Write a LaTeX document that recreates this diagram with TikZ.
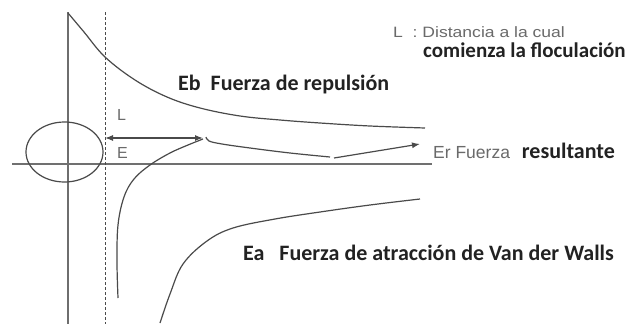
\documentclass[tikz,border=0pt]{standalone}
\usepackage{fontspec}
\setmainfont{Liberation Sans}
\newfontfamily\boldcal{Carlito}[BoldFont={Carlito Bold}]
\usetikzlibrary{arrows.meta,shapes.geometric}
\definecolor{linegray}{HTML}{4A4A4A}
\definecolor{axisgray}{HTML}{707070}
\definecolor{txtgray}{HTML}{6A6A6A}
\definecolor{txtdark}{HTML}{222222}
\tikzset{
  curve/.style={draw=linegray, line width=1.2pt},
  axis/.style={draw=axisgray, line width=1.8pt},
  dashline/.style={draw=linegray, line width=1pt, dash pattern=on 3pt off 2pt},
  boldlbl/.style={font=\boldcal\bfseries\fontsize{22}{24}\selectfont, text=txtdark, inner sep=0pt, anchor=base west},
  graylbl/.style={font=\fontsize{17.5}{20}\selectfont, text=txtgray, inner sep=0pt, anchor=base west},
  tip/.style={-{Latex[length=8pt,width=6pt]}}
}
\begin{document}
\begin{tikzpicture}[x=1pt,y=-1pt]
\useasboundingbox (0,0) rectangle (639,324);
\fill[white] (0,0) rectangle (639,324);
% axes
\coordinate (vtop) at (68,12);
\coordinate (vbot) at (68,324);
\coordinate (hl) at (12,164);
\coordinate (hr) at (432,164);
\draw[axis, line width=1.4pt, draw=linegray!80] (vtop) -- (vbot);
\draw[axis] (hl) -- (hr);
% dashed line
\coordinate (dtop) at (105,12);
\coordinate (dbot) at (105,324);
\draw[dashline] (dtop) -- (dbot);
% particle
\node[draw=linegray, line width=1.2pt, ellipse, minimum width=77pt, minimum height=60pt, inner sep=0pt] (part) at (64.5,152) {};
% repulsion curve
\draw[curve] plot[smooth, tension=0.6] coordinates {(68,13) (84,32) (105,57) (135,80) (167,97) (200,108) (240,116) (280,120) (320,123) (370,126) (425,128)};
% resultant curve
\draw[curve] plot[smooth, tension=0.6] coordinates {(118,298) (117,262) (118,225) (124,197) (134,179) (150,165) (170,153) (188,145) (203,139)};
\draw[curve] plot[smooth, tension=0.6] coordinates {(206,137) (209,141) (222,144) (250,148) (290,153) (330,157)};
% resultant arrow
\coordinate (ra) at (334,158);
\coordinate (rb) at (420,144);
\draw[curve, tip] (ra) -- (rb);
% attraction curve
\draw[curve] plot[smooth, tension=0.6] coordinates {(160,323) (170,294) (183,264) (207,241) (233,228) (275,219) (320,212) (370,205) (420,199)};
% L double arrow
\coordinate (la) at (105,138);
\coordinate (lb) at (203,138);
\draw[curve, {Latex[length=8pt,width=6pt]}-{Latex[length=8pt,width=6pt]}] (la) -- (lb);
% labels
\node[graylbl, font=\fontsize{16}{18}\selectfont] (Ll) at (117,120) {L};
\node[graylbl, font=\fontsize{16}{18}\selectfont] (El) at (117,158) {E};
\node[boldlbl] (eb) at (178,90) {\bfseries Eb\ \ Fuerza de repulsión};
\node[graylbl, font=\fontsize{15}{17}\selectfont, text depth=0pt, xscale=1.17, transform shape] (ld) at (393,37) {L\ \ : Distancia a la cual};
\node[boldlbl, font=\boldcal\bfseries\fontsize{21}{23}\selectfont] (ld2) at (423,57) {\bfseries comienza la floculación};
\node[graylbl] (er) at (433,158) {Er Fuerza};
\node[boldlbl, anchor=base east] (er2) at (615,158) {\bfseries resultante};
\node[boldlbl] (ea) at (243,260) {\bfseries Ea\ \ \ Fuerza de atracción de Van der Walls};
\end{tikzpicture}
\end{document}
